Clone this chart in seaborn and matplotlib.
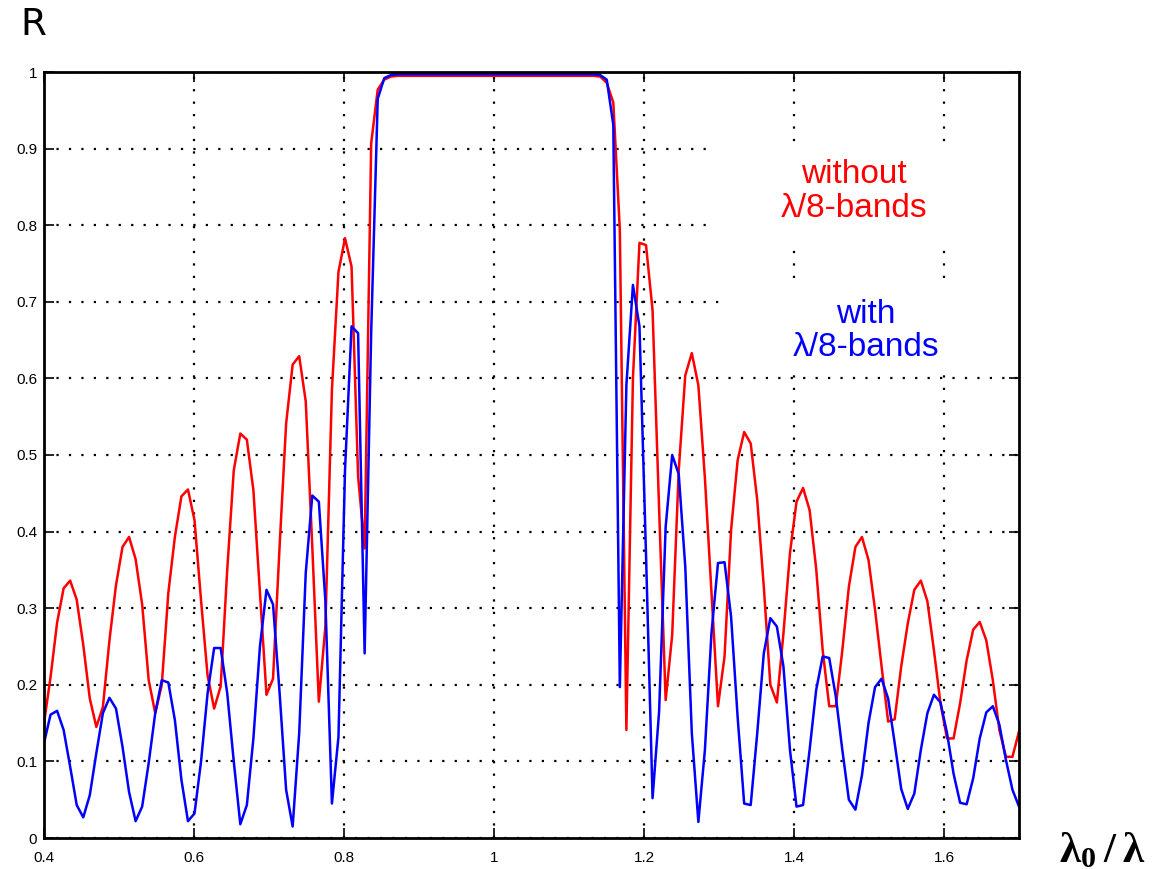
import numpy as np
import pandas as pd
import seaborn as sns
import matplotlib.pyplot as plt
from matplotlib.patches import Rectangle

# lambda0/lambda sampling grid (150 samples across the plotted range)
x = np.linspace(0.4, 1.7, 150)

# reflectance without lambda/8 bands (red)
r_without = [
    0.150, 0.210, 0.281, 0.326, 0.336, 0.311, 0.252, 0.182, 0.145, 0.171,
    0.258, 0.330, 0.380, 0.393, 0.364, 0.305, 0.206, 0.163, 0.200, 0.320,
    0.393, 0.446, 0.455, 0.415, 0.310, 0.212, 0.169, 0.198, 0.350, 0.480,
    0.528, 0.520, 0.454, 0.320, 0.187, 0.208, 0.380, 0.541, 0.618, 0.629,
    0.570, 0.380, 0.178, 0.276, 0.585, 0.739, 0.783, 0.746, 0.472, 0.378,
    0.907, 0.977, 0.990, 0.994,
] + [0.995] * 31 + [
    0.994, 0.986, 0.960, 0.794, 0.141, 0.600, 0.777, 0.774, 0.689, 0.430,
    0.180, 0.265, 0.480, 0.604, 0.633, 0.591, 0.470, 0.320, 0.172, 0.237,
    0.402, 0.493, 0.530, 0.515, 0.441, 0.328, 0.200, 0.177, 0.267, 0.372,
    0.439, 0.457, 0.428, 0.352, 0.245, 0.172, 0.172, 0.245, 0.328, 0.380,
    0.393, 0.363, 0.298, 0.224, 0.152, 0.155, 0.224, 0.280, 0.324, 0.336,
    0.309, 0.245, 0.176, 0.130, 0.130, 0.176, 0.232, 0.272, 0.282, 0.258,
    0.206, 0.141, 0.106, 0.106, 0.139,
]

# reflectance with lambda/8 bands (blue)
r_with = [
    0.124, 0.161, 0.166, 0.141, 0.093, 0.043, 0.027, 0.056, 0.111, 0.163,
    0.183, 0.169, 0.119, 0.060, 0.022, 0.041, 0.098, 0.163, 0.206, 0.203,
    0.154, 0.076, 0.022, 0.032, 0.100, 0.189, 0.248, 0.248, 0.189, 0.100,
    0.018, 0.043, 0.130, 0.250, 0.324, 0.305, 0.190, 0.063, 0.015, 0.137,
    0.346, 0.447, 0.439, 0.310, 0.045, 0.132, 0.480, 0.668, 0.659, 0.241,
    0.660, 0.965, 0.992, 0.996,
] + [0.997] * 31 + [
    0.996, 0.990, 0.931, 0.197, 0.591, 0.722, 0.668, 0.370, 0.052, 0.165,
    0.406, 0.500, 0.475, 0.354, 0.137, 0.021, 0.115, 0.267, 0.359, 0.360,
    0.289, 0.158, 0.045, 0.043, 0.137, 0.241, 0.287, 0.276, 0.224, 0.115,
    0.041, 0.043, 0.115, 0.193, 0.237, 0.235, 0.185, 0.115, 0.050, 0.037,
    0.082, 0.150, 0.197, 0.208, 0.182, 0.124, 0.064, 0.038, 0.058, 0.115,
    0.163, 0.187, 0.177, 0.137, 0.084, 0.046, 0.044, 0.078, 0.130, 0.164,
    0.172, 0.148, 0.102, 0.063, 0.041,
]

x_ticks = [0.4, 0.6, 0.8, 1.0, 1.2, 1.4, 1.6]
x_tick_labels = ['0.4', '0.6', '0.8', '1', '1.2', '1.4', '1.6']
y_ticks = [0, 0.1, 0.2, 0.3, 0.4, 0.5, 0.6, 0.7, 0.8, 0.9, 1.0]
y_tick_labels = ['0', '0.1', '0.2', '0.3', '0.4', '0.5', '0.6', '0.7', '0.8', '0.9', '1']

df = pd.DataFrame({'x': x, 'without': r_without, 'with': r_with})

#%%
fig = plt.figure(figsize=(11.59, 8.69), dpi=100)
ax = fig.add_axes([44 / 1159, 1 - 838 / 869, 975 / 1159, 766 / 869])
ax.set_axisbelow(True)

sns.lineplot(data=df, x='x', y='without', color='#ff0000', lw=1.8, ax=ax, zorder=2)
sns.lineplot(data=df, x='x', y='with', color='#0000ff', lw=1.8, ax=ax, zorder=2.1)

ax.set_xlim(0.4, 1.7)
ax.set_ylim(0, 1)
ax.set_xticks(x_ticks)
ax.set_xticklabels(x_tick_labels)
ax.set_yticks(y_ticks)
ax.set_yticklabels(y_tick_labels)
ax.set_xlabel('')
ax.set_ylabel('')
for lab in ax.get_xticklabels() + ax.get_yticklabels():
    lab.set_fontfamily('Liberation Sans')
    lab.set_fontsize(11)

ax.tick_params(direction='in', length=7, width=1.2, top=True, right=True)
ax.tick_params(axis='x', pad=9)
ax.tick_params(axis='y', pad=5)
for s in ax.spines.values():
    s.set_linewidth(2)
    s.set_color('black')

ax.grid(True, color='black', linestyle=(0, (1, 4.6)), linewidth=1.6)

# white boxes behind the annotations
ax.add_patch(Rectangle((1.291, 0.771), 0.409, 0.131, facecolor='white',
                       edgecolor='none', zorder=1))
ax.add_patch(Rectangle((1.307, 0.608), 0.393, 0.114, facecolor='white',
                       edgecolor='none', zorder=1))

ax.text(1.48, 0.844, 'without\n\u03bb/8-bands', color='#ff0000', ha='center',
        va='center', fontsize=24, family='Liberation Sans', linespacing=1.1,
        zorder=3)
ax.text(1.496, 0.662, 'with\n\u03bb/8-bands', color='#0000ff', ha='center',
        va='center', fontsize=24, family='Liberation Sans', linespacing=1.1,
        zorder=3)

fig.text(0.029, 0.971, 'R', ha='center', va='center', fontsize=27,
         family='DejaVu Sans')

plt.rcParams['mathtext.fontset'] = 'custom'
plt.rcParams['mathtext.bf'] = 'Liberation Serif:bold'
plt.rcParams['mathtext.rm'] = 'Liberation Serif'
fig.text(1059 / 1159, 1 - 862 / 869, r'$\mathbf{\lambda_0\,/\,\lambda}$',
         ha='left', va='baseline', fontsize=31)

plt.savefig('out.png', dpi=100)
